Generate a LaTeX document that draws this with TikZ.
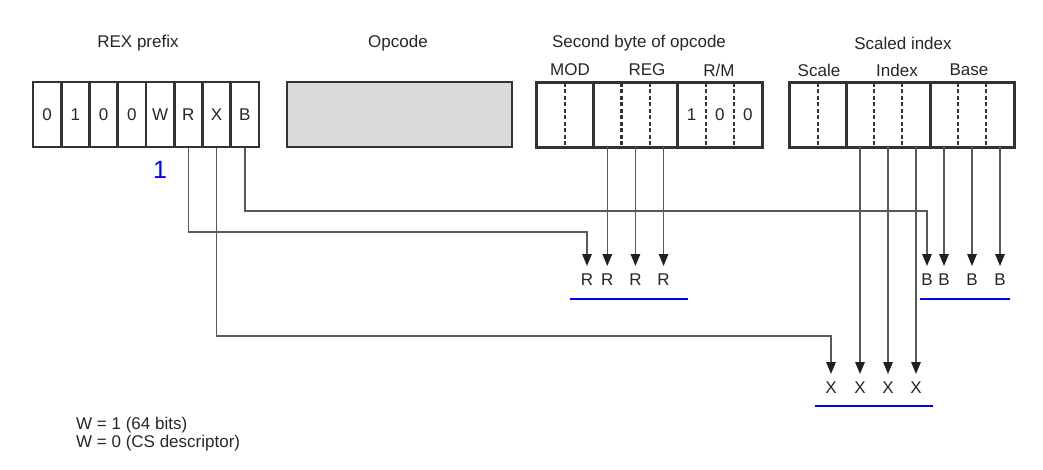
\documentclass[tikz,border=0pt]{standalone}
\usepackage{fontspec}
\setmainfont{Liberation Sans}
\usetikzlibrary{arrows.meta}
\begin{document}
\begin{tikzpicture}[x=1pt,y=-1pt,
  font=\fontsize{17}{18}\selectfont,
  cell/.style={draw=black!80, line width=2.8pt, minimum width=28.25pt, minimum height=65pt, inner sep=0pt},
  bit/.style={minimum width=28.1pt, minimum height=64pt, inner sep=0pt},
  box/.style={draw=black!80, line width=2.8pt},
  dashdiv/.style={draw=black!80, line width=2.2pt, dash pattern=on 4pt off 2.5pt},
  wire/.style={draw=black!65, line width=1.5pt},
  arr/.style={wire, -{Triangle[length=12pt,width=9.5pt,color=black!88]}},
  lbl/.style={inner sep=0pt, text height=12pt, text depth=0pt, outer sep=7pt, text=black!85},
  uline/.style={draw=blue, line width=2.6pt},
  hdr/.style={text=black!85}
]
\useasboundingbox (0,0) rectangle (1043,470);

% headers
\node[hdr] (hrex) at (138,43) {REX prefix};
\node[hdr] (hopc) at (398,43) {Opcode};
\node[hdr] (hsec) at (639,43) {Second byte of opcode};
\node[hdr] (hsca) at (903,43) {Scaled index};
\node[hdr] (hmod) at (570,70) {MOD};
\node[hdr] (hreg) at (647,70) {REG};
\node[hdr] (hrm) at (719,70) {R/M};
\node[hdr] (hscale) at (819,70) {Scale};
\node[hdr] (hindex) at (897,70) {Index};
\node[hdr] (hbase) at (969,70) {Base};

% REX prefix cells
\foreach \t [count=\i] in {0,1,0,0,W,R,X,B}
  \node[cell, text=black!85] (rex\i) at ({33+28.25*(\i-0.5)},114.5) {\t};

% Opcode
\node[box, fill=black!15, minimum width=225pt, minimum height=65pt] (opc) at (399.5,114.5) {};

% Second byte of opcode
\foreach \t [count=\i] in {{},{},{},{},{},1,0,0}
  \node[bit, text=black!85] (sb\i) at ({537+28.125*(\i-0.5)},115) {\t};
\draw[box] (sb1.north west) rectangle (sb8.south east);
\foreach \i in {2,5} \draw[box] (sb\i.north east) -- (sb\i.south east);
\foreach \i in {1,3,4,6,7} \draw[dashdiv] (sb\i.north east) -- (sb\i.south east);

% Scaled index
\foreach \i in {1,...,8}
  \node[bit] (sc\i) at ({790+28*(\i-0.5)},115) {};
\draw[box] (sc1.north west) rectangle (sc8.south east);
\foreach \i in {2,5} \draw[box] (sc\i.north east) -- (sc\i.south east);
\foreach \i in {1,3,4,6,7} \draw[dashdiv] (sc\i.north east) -- (sc\i.south east);

% blue 1
\node[text=blue, font=\fontsize{25}{25}\selectfont] (one) at (160,170) {1};

% target rows
\coordinate (rowR) at (0,279);
\coordinate (rowX) at (0,387);
\node[lbl] (r1) at (587,279) {R};
\node[lbl] (r2) at (sb3 |- rowR) {R};
\node[lbl] (r3) at (sb4 |- rowR) {R};
\node[lbl] (r4) at (sb5 |- rowR) {R};
\node[lbl] (b1) at (927,279) {B};
\node[lbl] (b2) at (sc6 |- rowR) {B};
\node[lbl] (b3) at (sc7 |- rowR) {B};
\node[lbl] (b4) at (sc8 |- rowR) {B};
\node[lbl] (x1) at (831,387) {X};
\node[lbl] (x2) at (sc3 |- rowX) {X};
\node[lbl] (x3) at (sc4 |- rowX) {X};
\node[lbl] (x4) at (sc5 |- rowX) {X};

% bends
\coordinate (bb) at (927,211);
\coordinate (rb) at (587,232);
\coordinate (xb) at (831,336);

% connectors
\draw[arr] (rex8.south) |- (bb) -- (b1);
\draw[arr] (rex6.south) |- (rb) -- (r1);
\draw[arr] (rex7.south) |- (xb) -- (x1);
\draw[arr] (sb3.south) -- (r2);
\draw[arr] (sb4.south) -- (r3);
\draw[arr] (sb5.south) -- (r4);
\draw[arr] (sc6.south) -- (b2);
\draw[arr] (sc7.south) -- (b3);
\draw[arr] (sc8.south) -- (b4);
\draw[arr] (sc3.south) -- (x2);
\draw[arr] (sc4.south) -- (x3);
\draw[arr] (sc5.south) -- (x4);

% underlines
\draw[uline] (570,299) -- (688,299);
\draw[uline] (920,299) -- (1010,299);
\draw[uline] (815,406) -- (933,406);

% note
\node[anchor=west, align=left, inner sep=0pt, text=black!85] (note) at (76,434) {W = 1 (64 bits)\\W = 0 (CS descriptor)};
\end{tikzpicture}
\end{document}
